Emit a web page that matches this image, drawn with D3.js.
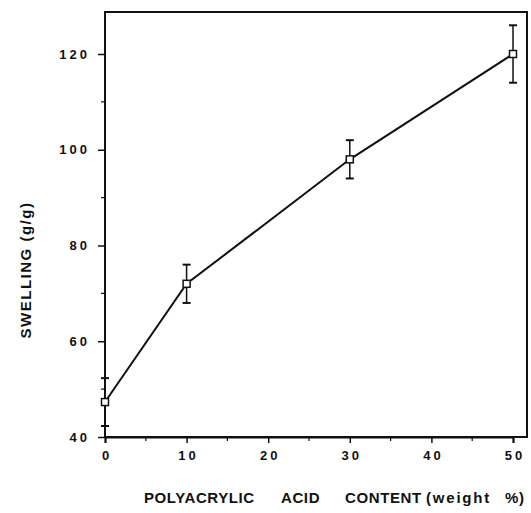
<!DOCTYPE html>
<html>
<head>
<meta charset="utf-8">
<script src="https://cdn.jsdelivr.net/npm/d3@7"></script>
<style>
  html, body { margin: 0; padding: 0; background: #fff; }
  svg text { font-family: "Liberation Sans", Arial, sans-serif; font-weight: bold; fill: #111; }
</style>
</head>
<body>
<svg id="chart" width="531" height="513"></svg>
<script>
// Polyacrylic acid content (weight %) and swelling (g/g) with error half-widths
const content = [0, 10, 30, 50];
const swelling = [47.3, 72, 98, 120];
const errors = [5, 4, 4, 6];
const xTickValues = [0, 10, 20, 30, 40, 50];
const yTickValues = [40, 60, 80, 100, 120];
const xMinorTicks = [5, 15, 25, 35, 45];
const yMinorTicks = [50, 70, 90, 110];
const xTitleWords = ["POLYACRYLIC", "ACID", "CONTENT", "(weight", "%)"];

const svg = d3.select("#chart");
const plotLeft = 105, plotRight = 513, frameRight = 527, frameTop = 12, plotBottom = 437;

const x = d3.scaleLinear().domain([0, 50]).range([plotLeft, plotRight]);
const y = d3.scaleLinear().domain([40, 120]).range([plotBottom, 54]);

const ink = "#111";

// frame
svg.append("path")
  .attr("d", `M${plotLeft},${plotBottom} V${frameTop} H${frameRight} V${plotBottom} Z`)
  .attr("fill", "none").attr("stroke", ink).attr("stroke-width", 2);

// x axis
const xAxis = d3.axisBottom(x).tickValues(xTickValues).tickSize(6).tickPadding(8)
  .tickFormat(d => String(d));
const gx = svg.append("g").attr("transform", `translate(0,${plotBottom})`).call(xAxis);
gx.select(".domain").attr("stroke", ink).attr("stroke-width", 2);
gx.selectAll(".tick line").attr("stroke", ink).attr("stroke-width", 1.5);
gx.selectAll(".tick text").attr("font-size", 13).attr("letter-spacing", 3)
  .attr("dx", 1.5).attr("fill", ink);
svg.append("g").selectAll("line").data(xMinorTicks).join("line")
  .attr("x1", d => x(d)).attr("x2", d => x(d))
  .attr("y1", plotBottom).attr("y2", plotBottom + 4)
  .attr("stroke", ink).attr("stroke-width", 1.2);

// y axis
const yAxis = d3.axisLeft(y).tickValues(yTickValues).tickSize(7).tickPadding(8)
  .tickFormat(d => String(d));
const gy = svg.append("g").attr("transform", `translate(${plotLeft},0)`).call(yAxis);
gy.select(".domain").remove();
gy.selectAll(".tick line").attr("stroke", ink).attr("stroke-width", 1.5);
gy.selectAll(".tick text").attr("font-size", 13).attr("letter-spacing", 3).attr("fill", ink);
svg.append("g").selectAll("line").data(yMinorTicks).join("line")
  .attr("x1", plotLeft - 4).attr("x2", plotLeft)
  .attr("y1", d => y(d)).attr("y2", d => y(d))
  .attr("stroke", ink).attr("stroke-width", 1.2);

const pts = content.map((c, i) => ({ c, s: swelling[i], e: errors[i] }));

// connecting line
svg.append("path")
  .datum(pts)
  .attr("d", d3.line().x(d => x(d.c)).y(d => y(d.s)))
  .attr("fill", "none").attr("stroke", ink).attr("stroke-width", 2);

// error bars
const eb = svg.append("g").selectAll("g").data(pts).join("g");
eb.append("line")
  .attr("x1", d => x(d.c)).attr("x2", d => x(d.c))
  .attr("y1", d => y(d.s + d.e)).attr("y2", d => y(d.s - d.e))
  .attr("stroke", ink).attr("stroke-width", 1.5);
eb.selectAll("line.cap").data(d => [[d.c, d.s + d.e], [d.c, d.s - d.e]]).join("line")
  .attr("class", "cap")
  .attr("x1", d => x(d[0]) - 4).attr("x2", d => x(d[0]) + 4)
  .attr("y1", d => y(d[1])).attr("y2", d => y(d[1]))
  .attr("stroke", ink).attr("stroke-width", 2);

// open square markers
svg.append("g").selectAll("rect").data(pts).join("rect")
  .attr("x", d => x(d.c) - 3.5).attr("y", d => y(d.s) - 3.5)
  .attr("width", 7).attr("height", 7)
  .attr("fill", "#fff").attr("stroke", ink).attr("stroke-width", 1.5);

// axis titles
svg.append("text")
  .attr("transform", `translate(31,270) rotate(-90)`)
  .attr("text-anchor", "middle").attr("font-size", 15).attr("letter-spacing", 1.5)
  .text("SWELLING (g/g)");
const xTitleX = [144, 281, 345, 426, 505];
const xTitleSpacing = [0.6, 0.6, 0.6, 1.8, 0.6];
svg.append("text")
  .attr("y", 503).attr("font-size", 15)
  .selectAll("tspan").data(xTitleWords).join("tspan")
  .attr("x", (d, i) => xTitleX[i])
  .attr("letter-spacing", (d, i) => xTitleSpacing[i])
  .text(d => d);
</script>
</body>
</html>
